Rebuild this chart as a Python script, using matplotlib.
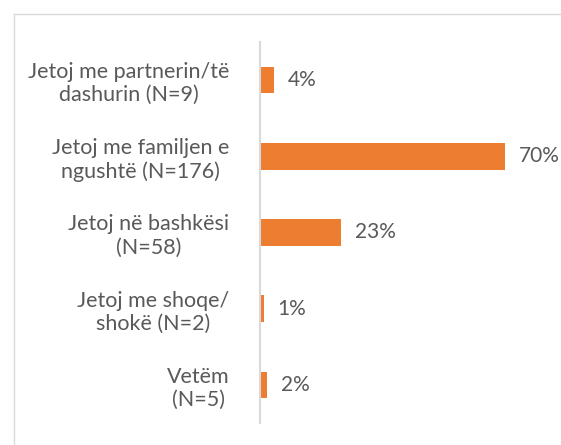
import matplotlib.pyplot as plt
from matplotlib.lines import Line2D

categories = ["Jetoj me partnerin/të\ndashurin (N=9)",
              "Jetoj me familjen e\nngushtë (N=176)",
              "Jetoj në bashkësi\n(N=58)",
              "Jetoj me shoqe/\nshokë (N=2)",
              "Vetëm\n(N=5)"]
values = [4, 70, 23, 1, 2]
value_labels = ["4%", "70%", "23%", "1%", "2%"]

plt.rcParams['font.family'] = ['Lato', 'DejaVu Sans']
text_color = '#595959'

fig = plt.figure(figsize=(5.61, 4.45), dpi=100)
ax = fig.add_axes([260 / 561, 22 / 445, 295 / 561, 381 / 445])

ypos = list(range(len(categories)))
ax.barh(ypos, values, height=0.35, color='#ED7D31')
ax.set_ylim(len(categories) - 0.5, -0.5)
ax.set_xlim(0, 295 / 3.5)

for y, v, lab in zip(ypos, values, value_labels):
    ax.annotate(lab, (v, y), xytext=(14, 0), textcoords='offset pixels',
                va='center', ha='left', fontsize=15, color=text_color)

ax.set_yticks(ypos)
ax.set_yticklabels(categories, fontsize=15.5, color=text_color, ha='right',
                   multialignment='center', linespacing=1.2)
ax.tick_params(axis='y', length=0, pad=22)
ax.set_xticks([])
for s in ['top', 'right', 'bottom']:
    ax.spines[s].set_visible(False)
ax.spines['left'].set_color('#d9d9d9')
ax.spines['left'].set_linewidth(1.5)

# outer chart frame
fig.add_artist(Line2D([14 / 561, 1], [1 - 14 / 445, 1 - 14 / 445],
                      transform=fig.transFigure, color='#d9d9d9', lw=1))
fig.add_artist(Line2D([14 / 561, 14 / 561], [0, 1 - 14 / 445],
                      transform=fig.transFigure, color='#d9d9d9', lw=1))

fig.savefig('out.png', dpi=100)
